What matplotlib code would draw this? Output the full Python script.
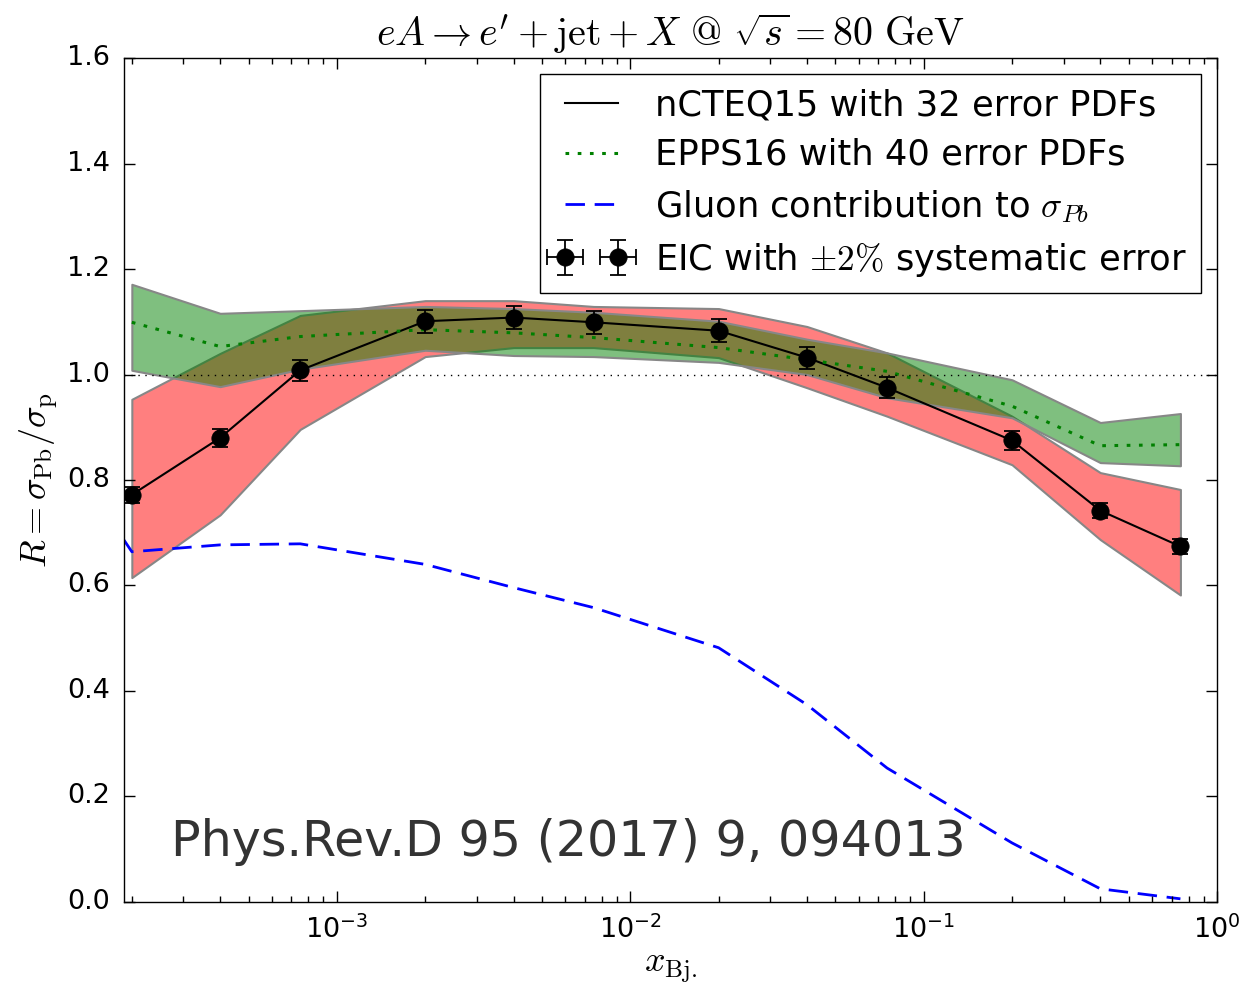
import numpy as np
import matplotlib
matplotlib.use("Agg")
import matplotlib.pyplot as plt

plt.style.use("classic")
plt.rcParams["mathtext.fontset"] = "cm"
plt.rcParams["lines.scale_dashes"] = True

# x_Bj bin centres
x = [2e-4, 4e-4, 7.5e-4, 2e-3, 4e-3, 7.5e-3, 2e-2, 4e-2, 7.5e-2, 0.2, 0.4, 0.75]

# nCTEQ15 central ratio (also the EIC pseudo-data) and error band
ncteq = [0.772, 0.880, 1.008, 1.101, 1.108, 1.099, 1.083, 1.032, 0.975, 0.875, 0.742, 0.674]
ncteq_hi = [0.953, 1.040, 1.112, 1.140, 1.140, 1.129, 1.125, 1.091, 1.041, 0.921, 0.814, 0.782]
ncteq_lo = [0.615, 0.734, 0.896, 1.034, 1.051, 1.051, 1.032, 0.975, 0.921, 0.829, 0.687, 0.582]

# EPPS16 central ratio and error band
epps = [1.099, 1.053, 1.072, 1.085, 1.079, 1.070, 1.051, 1.028, 1.006, 0.940, 0.865, 0.867]
epps_hi = [1.171, 1.116, 1.121, 1.129, 1.125, 1.118, 1.101, 1.067, 1.041, 0.990, 0.909, 0.926]
epps_lo = [1.008, 0.977, 1.010, 1.046, 1.036, 1.034, 1.023, 1.000, 0.956, 0.918, 0.833, 0.827]

# gluon-initiated fraction of sigma_Pb
x_glu = [1.85e-4] + x
gluon = [0.692, 0.664, 0.677, 0.679, 0.640, 0.596, 0.558, 0.482, 0.374, 0.254, 0.112, 0.025, 0.006]

sys_err = 0.02

x = np.array(x)
ncteq = np.array(ncteq)

fig = plt.figure(figsize=(12.47, 9.9), dpi=100, facecolor="white")
ax = fig.add_axes([0.0994, 0.0889, 0.8766, 0.8525])

ax.fill_between(x, ncteq_lo, ncteq_hi, facecolor=(1, 0, 0, 0.5),
                edgecolor="#878787", linewidth=1.5)
ax.fill_between(x, epps_lo, epps_hi, facecolor=(0, 0.5, 0, 0.5),
                edgecolor="#878787", linewidth=1.5)

ax.plot(x, ncteq, "k-", lw=1.5, label="nCTEQ15 with 32 error PDFs")
ax.plot(x, epps, color="green", ls=":", lw=2.2, dashes=(1.2, 2.8),
        label="EPPS16 with 40 error PDFs")
ax.plot(x_glu, gluon, color="blue", ls="--", lw=2, dashes=(7, 3.5),
        label=r"Gluon contribution to $\sigma_{Pb}$")
ax.errorbar(x, ncteq, yerr=sys_err * ncteq, xerr=0.015 * x, fmt="o", color="k",
            ms=12.5, capsize=5.5, elinewidth=1.3, capthick=1.3,
            label=r"EIC with $\pm 2\%$ systematic error")
ax.axhline(1.0, color="k", ls=":", lw=1, dashes=(1, 4))

ax.set_xscale("log")
ax.set_xlim(1.88e-4, 1.0)
ax.set_ylim(0.0, 1.6)
ax.set_yticks(np.arange(0, 1.61, 0.2))
ax.tick_params(labelsize=19.5, pad=10)
ax.tick_params(which="major", length=8, width=1)
ax.tick_params(which="minor", length=4, width=1)

ax.set_xlabel(r"$x_{\rm Bj.}$", fontsize=26)
ax.set_ylabel(r"$R = \sigma_{\rm Pb}/\sigma_{\rm p}$", fontsize=26)
ax.set_title(r"$eA \rightarrow e^{\prime} + \mathrm{jet} + X\ @\ \sqrt{s} = 80\ \mathrm{GeV}$",
             fontsize=28.8, pad=9)

ax.text(0.043, 0.054, "Phys.Rev.D 95 (2017) 9, 094013", transform=ax.transAxes,
        fontsize=35.4, color="#333333")

ax.legend(loc="upper right", fontsize=25.4, numpoints=2, handlelength=2.1,
          handletextpad=0.75, labelspacing=0.45, borderaxespad=0.45)

fig.savefig("out.png", dpi=100, facecolor="white")
